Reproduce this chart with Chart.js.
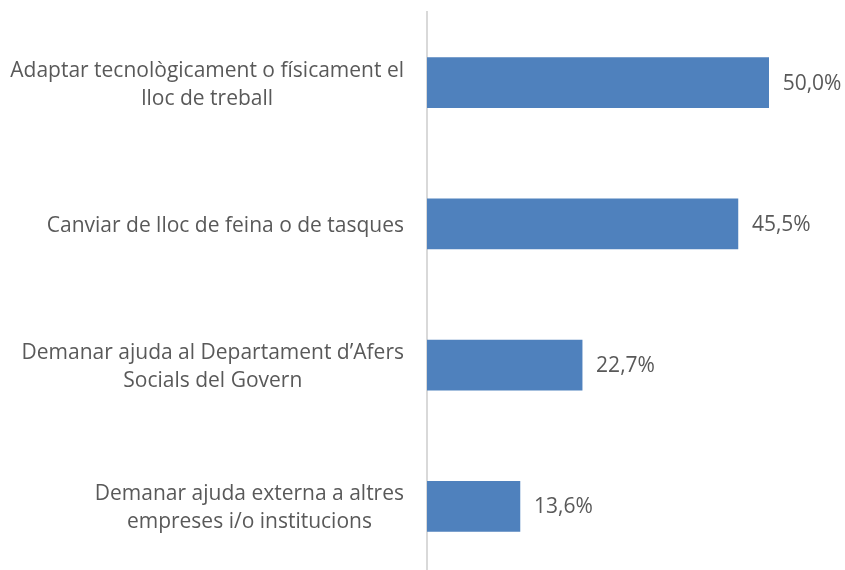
<!DOCTYPE html>
<html>
<head>
<meta charset="utf-8">
<script src="https://cdn.jsdelivr.net/npm/chart.js@4/dist/chart.umd.min.js"></script>
<style>
html,body{margin:0;padding:0;background:#fff;overflow:hidden;}
#wrap{width:845px;height:577px;position:relative;}
</style>
</head>
<body>
<div id="wrap"><canvas id="c" width="845" height="577"></canvas></div>
<script>
const categories = [
  ["Adaptar tecnològicament o físicament el", "lloc de treball"],
  ["Canviar de lloc de feina o de tasques"],
  ["Demanar ajuda al Departament d\u2019Afers", "Socials del Govern"],
  ["Demanar ajuda externa a altres", "empreses i/o institucions"]
];
const values = [50.0, 45.5, 22.7, 13.6];
const valueLabels = ["50,0%", "45,5%", "22,7%", "13,6%"];

const FONT = '21px "Open Sans"';
const TEXT = '#595959';

const labelPlugin = {
  id: 'customLabels',
  afterDatasetsDraw(chart) {
    const ctx = chart.ctx;
    const y = chart.scales.y;
    const meta = chart.getDatasetMeta(0);
    ctx.save();
    ctx.font = FONT;
    ctx.fillStyle = TEXT;
    ctx.textBaseline = 'middle';
    categories.forEach((lines, i) => {
      const cy = y.getPixelForValue(i) + 2;
      const maxW = Math.max(...lines.map(l => ctx.measureText(l).width));
      const right = chart.chartArea.left - 23;
      const cx = right - maxW / 2;
      const lh = 28;
      ctx.textAlign = 'center';
      lines.forEach((l, k) => {
        ctx.fillText(l, cx, cy + (k - (lines.length - 1) / 2) * lh);
      });
    });
    ctx.textAlign = 'left';
    meta.data.forEach((bar, i) => {
      ctx.fillText(valueLabels[i], bar.x + 14, bar.y + 1);
    });
    ctx.restore();
  }
};

new Chart(document.getElementById('c'), {
  type: 'bar',
  data: {
    labels: categories,
    datasets: [{
      data: values,
      backgroundColor: '#4f81bd',
      barThickness: 50
    }]
  },
  options: {
    indexAxis: 'y',
    responsive: false,
    animation: false,
    layout: { padding: { top: 12, right: 8, bottom: 0, left: 0 } },
    plugins: { legend: { display: false }, tooltip: { enabled: false } },
    scales: {
      x: { display: false, min: 0, max: 60 },
      y: {
        grid: { display: false, drawTicks: false },
        border: { display: true, color: '#d9d9d9', width: 2 },
        ticks: { display: false },
        afterFit(scale) { scale.width = 427; }
      }
    }
  },
  plugins: [labelPlugin]
});
</script>
</body>
</html>
